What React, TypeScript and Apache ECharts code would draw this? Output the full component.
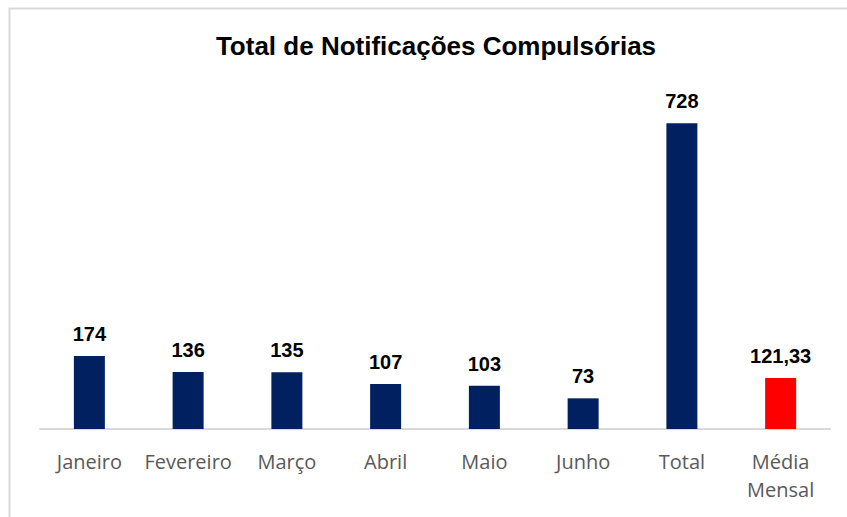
import React, { useEffect, useRef } from "react";
import * as echarts from "echarts";

const categories = ["Janeiro", "Fevereiro", "Março", "Abril", "Maio", "Junho", "Total", "Média\nMensal"];
const values = [174, 136, 135, 107, 103, 73, 728, 121.33];
const barColors = ["#002060", "#002060", "#002060", "#002060", "#002060", "#002060", "#002060", "#FF0000"];
const titleText = "Total de Notificações Compulsórias";

export default function App() {
  const ref = useRef<HTMLDivElement>(null);
  useEffect(() => {
    if (!ref.current) return;
    const chart = echarts.init(ref.current, null, { renderer: "svg" });
    chart.setOption({
      animation: false,
      backgroundColor: "#ffffff",
      title: {
        text: titleText,
        left: 431,
        textAlign: "center",
        top: 28,
        textStyle: { fontFamily: "Liberation Sans, Arial", fontWeight: "bold", fontSize: 26, color: "#000000" },
      },
      graphic: [
        {
          type: "rect",
          shape: { x: 9.5, y: 8.5, width: 900, height: 600 },
          style: { fill: "none", stroke: "#D9D9D9", lineWidth: 2 },
          silent: true,
        },
      ],
      grid: { left: 40, right: 17, top: 93, bottom: 88, containLabel: false },
      xAxis: {
        type: "category",
        data: categories,
        axisLine: { show: true, lineStyle: { color: "#D9D9D9", width: 2 } },
        axisTick: { show: false },
        axisLabel: {
          interval: 0,
          margin: 18,
          color: "#595959",
          fontFamily: "Open Sans",
          fontSize: 20,
          lineHeight: 28,
        },
      },
      yAxis: {
        type: "value",
        min: 0,
        max: 800,
        show: false,
        splitLine: { show: false },
      },
      series: [
        {
          type: "bar",
          barWidth: 31,
          data: values.map((v, i) => ({ value: v, itemStyle: { color: barColors[i] } })),
          label: {
            show: true,
            position: "top",
            distance: 12,
            fontFamily: "Liberation Sans, Arial",
            fontWeight: "bold",
            fontSize: 20,
            color: "#000000",
            formatter: (p: any) => String(p.value).replace(".", ","),
          },
        },
      ],
    });
    return () => chart.dispose();
  }, []);
  return <div ref={ref} style={{ position: "fixed", left: 0, top: 0, width: 847, height: 517 }} />;
}
